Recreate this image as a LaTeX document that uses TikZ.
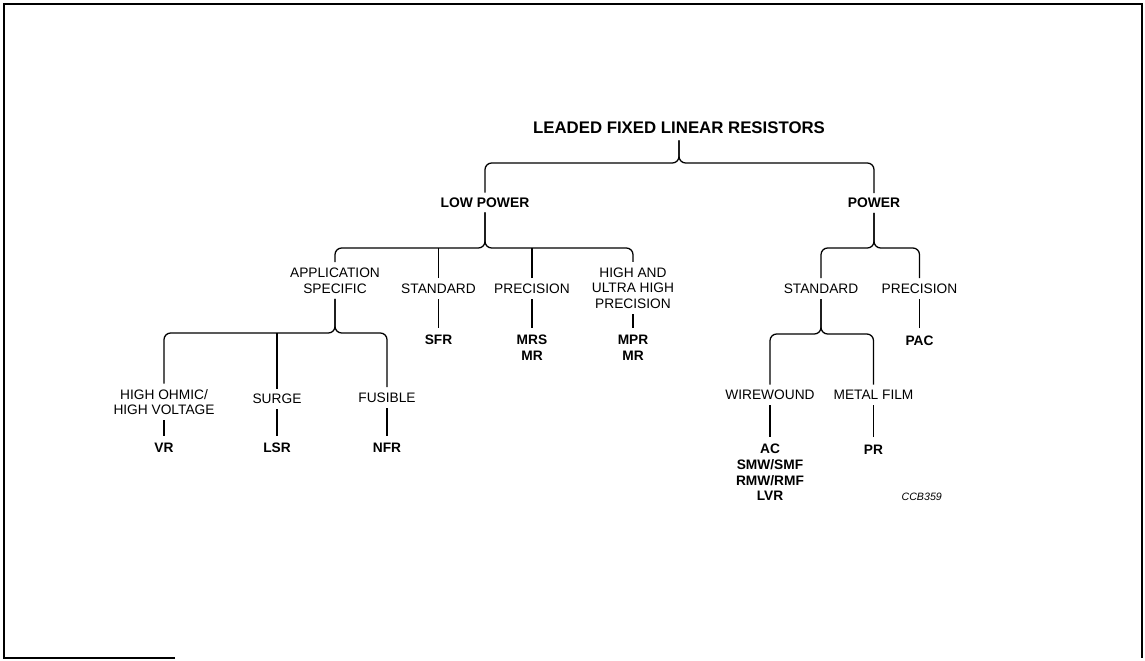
\documentclass[tikz,border=0pt]{standalone}
\usepackage{fontspec}
\setmainfont{Liberation Sans}
\begin{document}
\begin{tikzpicture}[x=0.75pt,y=-0.75pt,
  lbl/.style={inner xsep=3pt, inner ysep=4pt, align=center, font=\fontsize{10.3}{11.7}\selectfont},
  code/.style={inner xsep=3pt, inner ysep=5.5pt, align=center, font=\fontsize{10.3}{11.7}\selectfont\bfseries},
  head/.style={inner xsep=3pt, inner ysep=3.5pt, align=center, font=\fontsize{10.4}{11.7}\selectfont\bfseries},
  ttl/.style={inner sep=5pt, font=\fontsize{12.6}{14}\selectfont\bfseries},
  tag/.style={inner sep=1pt, font=\fontsize{8}{9}\selectfont\itshape},
  wire/.style={line width=0.95pt},
  brace/.style={wire, rounded corners=5pt},
  frame/.style={line width=1.5pt}]
\useasboundingbox (0,0) rectangle (1145,660);
% frame
\draw[frame] (175,658) -- (4,658) -- (4,4) -- (1142,4) -- (1142,658);

% nodes
\node[ttl] (title) at (679,127.5) {LEADED FIXED LINEAR RESISTORS};
\node[head] (lp) at (485,202.5) {LOW POWER};
\node[head] (pw) at (874,203) {POWER};

\node[lbl] (appl) at (335,280.5) {APPLICATION\\SPECIFIC};
\node[lbl] (std1) at (438.5,288.7) {STANDARD};
\node[lbl] (prec1) at (532,288.7) {PRECISION};
\node[lbl] (hup) at (633,288) {HIGH AND\\ULTRA HIGH\\PRECISION};

\node[code] (sfr) at (438.5,340) {SFR};
\node[code] (mrs) at (532,348) {MRS\\MR};
\node[code] (mpr) at (633,348) {MPR\\MR};

\node[lbl] (hov) at (164,402) {HIGH OHMIC/\\HIGH VOLTAGE};
\node[lbl] (surge) at (277,399) {SURGE};
\node[lbl] (fus) at (387,397.7) {FUSIBLE};
\node[code] (vr) at (164,448) {VR};
\node[code] (lsr) at (277,448) {LSR};
\node[code] (nfr) at (387,448) {NFR};

\node[lbl] (std2) at (821,288.7) {STANDARD};
\node[lbl] (prec2) at (919.5,288.7) {PRECISION};
\node[code] (pac) at (919.5,340.5) {PAC};

\node[lbl] (ww) at (770,395) {WIREWOUND};
\node[lbl] (mf) at (873.5,395) {METAL FILM};
\node[code] (acg) at (770,472.5) {AC\\SMW/SMF\\RMW/RMF\\LVR};
\node[code] (pr) at (873.5,449.5) {PR};

\node[tag] (ccb) at (921.7,497) {CCB359};

% junctions
\coordinate (j0) at (679,163);
\coordinate (j1) at (485,248);
\coordinate (j2) at (335,333);
\coordinate (j3) at (874,248);
\coordinate (j4) at (821,334);

% connectors
\draw[brace] (lp.north) |- (j0) -- (title.south -| j0);
\draw[brace] (pw.north) |- (j0) -- (title.south -| j0);

\draw[brace] (appl.north) |- (j1) -- (lp.south -| j1);
\draw[brace] (hup.north) |- (j1) -- (lp.south -| j1);
\draw[wire] (std1.north) -- (std1.north |- j1);
\draw[wire] (prec1.north) -- (prec1.north |- j1);

\draw[wire] (sfr.north) -- (std1.south);
\draw[wire] (mrs.north) -- (prec1.south);
\draw[wire] (mpr.north) -- (hup.south);

\draw[brace] (hov.north) |- (j2) -- (appl.south -| j2);
\draw[brace] (fus.north) |- (j2) -- (appl.south -| j2);
\draw[wire] (surge.north) -- (surge.north |- j2);

\draw[wire] (vr.north) -- (hov.south);
\draw[wire] (lsr.north) -- (surge.south);
\draw[wire] (nfr.north) -- (fus.south);

\draw[brace] (std2.north) |- (j3) -- (pw.south -| j3);
\draw[brace] (prec2.north) |- (j3) -- (pw.south -| j3);
\draw[wire] (pac.north) -- (prec2.south);

\draw[brace] (ww.north) |- (j4) -- (std2.south -| j4);
\draw[brace] (mf.north) |- (j4) -- (std2.south -| j4);
\draw[wire] (acg.north) -- (ww.south);
\draw[wire] (pr.north) -- (mf.south);
\end{tikzpicture}
\end{document}
